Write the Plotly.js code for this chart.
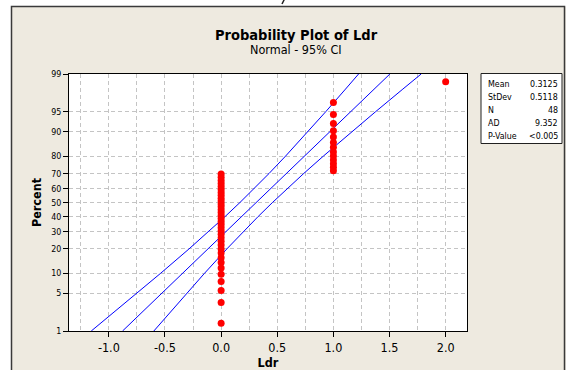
<!DOCTYPE html>
<html>
<head>
<meta charset="utf-8">
<script src="https://cdn.plot.ly/plotly-3.0.1.min.js"></script>
<style>html,body{margin:0;padding:0;background:#fff;}#chart{width:566px;height:370px;}</style>
</head>
<body>
<div id="chart"></div>
<script>
// ---- data ----
const ldr = [0,0,0,0,0,0,0,0,0,0,0,0,0,0,0,0,0,0,0,0,0,0,0,0,0,0,0,0,0,0,0,0,0,0,
             1,1,1,1,1,1,1,1,1,1,1,1,1,
             2];
const percent = [1.446,3.512,5.579,7.645,9.711,11.777,13.843,15.909,17.975,20.041,
                 22.107,24.174,26.240,28.306,30.372,32.438,34.504,36.570,38.636,40.702,
                 42.769,44.835,46.901,48.967,51.033,53.099,55.165,57.231,59.298,61.364,
                 63.430,65.496,67.562,69.628,71.694,73.760,75.826,77.893,79.959,82.025,
                 84.091,86.157,88.223,90.289,92.355,94.421,96.488,98.554];
const linePercent = [1,2,5,10,20,30,40,50,60,70,80,90,95,98,99];
const fitX   = [-0.8781,-0.7386,-0.5294,-0.3434,-0.1182,0.0441,0.1829,0.3125,0.4421,0.5809,0.7432,0.9684,1.1544,1.3636,1.5031];
const lowerX = [-1.1568,-0.9939,-0.7515,-0.5388,-0.2867,-0.1103,0.0358,0.1677,0.2950,0.4265,0.5747,0.7730,0.9323,1.1083,1.2244];
const upperX = [-0.5994,-0.4833,-0.3073,-0.1480,0.0503,0.1985,0.3300,0.4573,0.5892,0.7353,0.9117,1.1638,1.3765,1.6189,1.7818];
const yTickPercents = [1,5,10,20,30,40,50,60,70,80,90,95,99];
const statLabels = ['Mean','StDev','N','AD','P-Value'];
const statValues = ['0.3125','0.5118','48','9.352','<0.005'];

// normal probability scale (inverse normal CDF, Acklam)
function normInv(p){
  const a=[-3.969683028665376e+01,2.209460984245205e+02,-2.759285104469687e+02,1.383577518672690e+02,-3.066479806614716e+01,2.506628277459239e+00];
  const b=[-5.447609879822406e+01,1.615858368580409e+02,-1.556989798598866e+02,6.680131188771972e+01,-1.328068155288572e+01];
  const c=[-7.784894002430293e-03,-3.223964580411365e-01,-2.400758277161838e+00,-2.549732539343734e+00,4.374664141464968e+00,2.938163982698783e+00];
  const d=[7.784695709041462e-03,3.224671290700398e-01,2.445134137142996e+00,3.754408661907416e+00];
  const pl=0.02425, ph=1-pl; let q,r;
  if(p<pl){q=Math.sqrt(-2*Math.log(p));return (((((c[0]*q+c[1])*q+c[2])*q+c[3])*q+c[4])*q+c[5])/((((d[0]*q+d[1])*q+d[2])*q+d[3])*q+1);}
  if(p<=ph){q=p-0.5;r=q*q;return (((((a[0]*r+a[1])*r+a[2])*r+a[3])*r+a[4])*r+a[5])*q/(((((b[0]*r+b[1])*r+b[2])*r+b[3])*r+b[4])*r+1);}
  q=Math.sqrt(-2*Math.log(1-p));return -(((((c[0]*q+c[1])*q+c[2])*q+c[3])*q+c[4])*q+c[5])/((((d[0]*q+d[1])*q+d[2])*q+d[3])*q+1);
}
const zOf = v => normInv(v/100);

// ---- layout geometry ----
const L=69, T=74, W=398, H=257;
const px = x => (x-L)/W;
const py = y => (T+H-y)/H;
const FONT = 'DejaVu Sans Condensed, DejaVu Sans, sans-serif';
const TXT = '#000000';

const lineStyle = {color:'#0000FF', width:1};
const traces = [
  {x:lowerX, y:linePercent.map(zOf), mode:'lines', line:lineStyle, hoverinfo:'skip', showlegend:false},
  {x:fitX,   y:linePercent.map(zOf), mode:'lines', line:lineStyle, hoverinfo:'skip', showlegend:false},
  {x:upperX, y:linePercent.map(zOf), mode:'lines', line:lineStyle, hoverinfo:'skip', showlegend:false},
  {x:ldr, y:percent.map(zOf), mode:'markers', marker:{color:'#FF0000', size:7}, showlegend:false}
];

const shapes = [
  // white outside strips
  {type:'rect', xref:'paper', yref:'paper', x0:px(-5), x1:px(11), y0:py(400), y1:py(-5), fillcolor:'#FFFFFF', line:{width:0}, layer:'above'},
  {type:'rect', xref:'paper', yref:'paper', x0:px(-5), x1:px(570), y0:py(6.5), y1:py(-5), fillcolor:'#FFFFFF', line:{width:0}, layer:'above'},
  // clipped glyph fragment above the frame
  {type:'path', xref:'paper', yref:'paper', path:`M ${px(284.5)},${py(-1)} L ${px(282)},${py(4)}`, line:{color:'#222', width:1.5}, layer:'above'},
  // frame
  {type:'rect', xref:'paper', yref:'paper', x0:px(11.5), x1:px(564.5), y0:py(385), y1:py(6.5), line:{color:'#3a3a3a', width:1.5}, layer:'above'},
  // stats box
  {type:'rect', xref:'paper', yref:'paper', x0:px(481), x1:px(562), y0:py(143.5), y1:py(73.5), fillcolor:'#FFFFFF', line:{color:'#202020', width:1}, layer:'above'}
];

const annotations = [
  {text:'<b>Probability Plot of Ldr</b>', xref:'paper', yref:'paper', x:px(296), y:py(35), xanchor:'center', yanchor:'middle', showarrow:false, font:{family:FONT, size:14.5, color:TXT}},
  {text:'Normal - 95% CI', xref:'paper', yref:'paper', x:px(296), y:py(49.5), xanchor:'center', yanchor:'middle', showarrow:false, font:{family:FONT, size:12.5, color:TXT}}
];
const rowY = [84, 97, 110, 123, 136];
statLabels.forEach((s,i)=>{
  annotations.push({text:s, xref:'paper', yref:'paper', x:px(485.5), y:py(rowY[i]), xanchor:'left', yanchor:'middle', showarrow:false, font:{family:FONT, size:8.8, color:TXT}});
  annotations.push({text:statValues[i], xref:'paper', yref:'paper', x:px(559.5), y:py(rowY[i]), xanchor:'right', yanchor:'middle', showarrow:false, font:{family:FONT, size:8.8, color:TXT}});
});

const gridC = '#C4C4C4';
const layout = {
  width:566, height:370,
  margin:{l:L, r:566-L-W, t:T, b:370-T-H, pad:0},
  paper_bgcolor:'#EEEAE0', plot_bgcolor:'#FFFFFF',
  font:{family:FONT, color:TXT},
  showlegend:false,
  xaxis:{
    range:[-1.355, 2.19], tickmode:'array', tickvals:[-1,-0.5,0,0.5,1,1.5,2],
    ticktext:['-1.0','-0.5','0.0','0.5','1.0','1.5','2.0'],
    ticks:'outside', ticklen:5, tickcolor:'#000', tickwidth:1,
    showgrid:true, gridcolor:gridC, griddash:'4px,3px', gridwidth:1,
    minor:{tickmode:'array', tickvals:[-1.25,-0.75,-0.25,0.25,0.75,1.25,1.75], showgrid:true, gridcolor:gridC, griddash:'4px,3px', gridwidth:1, ticks:''},
    showline:true, linecolor:'#000', linewidth:1, mirror:true, zeroline:false,
    tickfont:{family:FONT, size:12.5, color:TXT},
    title:{text:'<b>Ldr</b>', font:{family:FONT, size:12.5, color:TXT}, standoff:5}
  },
  yaxis:{
    range:[zOf(1)-1e-6, zOf(99)+1e-6], tickmode:'array', tickvals:yTickPercents.map(zOf),
    ticktext:yTickPercents.map(String),
    ticks:'outside', ticklen:5, tickcolor:'#000', tickwidth:1,
    showgrid:true, gridcolor:gridC, griddash:'4px,3px', gridwidth:1,
    showline:true, linecolor:'#000', linewidth:1, mirror:true, zeroline:false,
    tickfont:{family:FONT, size:8.8, color:TXT},
    title:{text:'<b>Percent</b>', font:{family:FONT, size:12.5, color:TXT}, standoff:6}
  },
  shapes, annotations
};

Plotly.newPlot('chart', traces, layout, {staticPlot:true, displayModeBar:false});
</script>
</body>
</html>
